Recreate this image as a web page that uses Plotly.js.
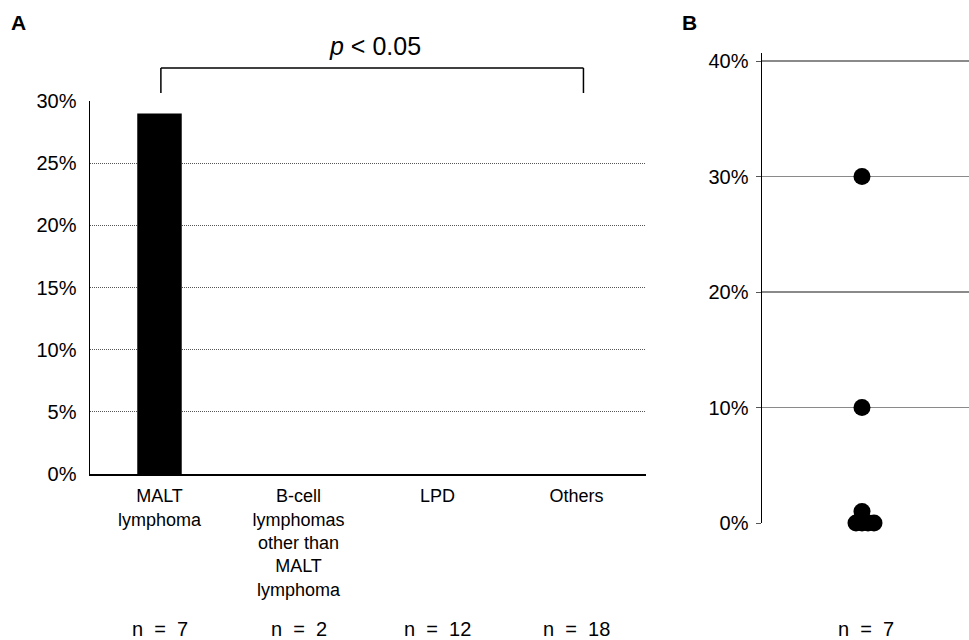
<!DOCTYPE html>
<html>
<head>
<meta charset="utf-8">
<script src="https://cdn.plot.ly/plotly-3.0.1.min.js"></script>
<style>html,body{margin:0;padding:0;background:#fff;}#chart{width:969px;height:640px;}</style>
</head>
<body>
<div id="chart"></div>
<script>
// Panel A data
const categories = ["MALT<br>lymphoma", "B-cell<br>lymphomas<br>other than<br>MALT<br>lymphoma", "LPD", "Others"];
const percentA = [29, 0, 0, 0];
const nA = [7, 2, 12, 18];
// Panel B data (individual values, % ; x jitter offsets)
const valuesB = [30, 10, 1, 0, 0, 0, 0];
const jitterB = [0, 0, 0, -0.06, 0, 0.06, 0.12];
const nB = 7;
const pLabel = "<i>p</i> < 0.05";

const W = 969, H = 640;
const px = v => v / W, py = v => (H - v) / H;
const font = "Liberation Sans, Arial, sans-serif";
const nText = n => "n&nbsp;&nbsp;=&nbsp;&nbsp;" + n;

const traces = [
  {type: "bar", x: categories, y: percentA, xaxis: "x", yaxis: "y",
   marker: {color: "#000"}, width: 0.32, hoverinfo: "skip"},
  {type: "scatter", mode: "markers", x: jitterB, y: valuesB, xaxis: "x2", yaxis: "y2",
   marker: {color: "#000", size: 17}, hoverinfo: "skip", cliponaxis: false}
];

const annotations = [];
categories.forEach((c, i) => {
  annotations.push({xref: "x", yref: "paper", x: i, y: py(629), text: nText(nA[i]),
    showarrow: false, font: {size: 20, color: "#000", family: font}, yanchor: "middle"});
});
annotations.push({xref: "x2", yref: "paper", x: 0.04, y: py(629), text: nText(nB),
  showarrow: false, font: {size: 20, color: "#000", family: font}, yanchor: "middle"});
annotations.push({xref: "paper", yref: "paper", x: px(375), y: py(46), text: pLabel,
  showarrow: false, font: {size: 25, color: "#000", family: font}, yanchor: "middle"});
annotations.push({xref: "paper", yref: "paper", x: px(9), y: py(23), text: "<b>A</b>",
  showarrow: false, font: {size: 21, color: "#000", family: font}, xanchor: "left", yanchor: "middle"});
annotations.push({xref: "paper", yref: "paper", x: px(680), y: py(23), text: "<b>B</b>",
  showarrow: false, font: {size: 21, color: "#000", family: font}, xanchor: "left", yanchor: "middle"});

const bl = {color: "#000", width: 1.5};
const shapes = [
  {type: "line", xref: "x", yref: "paper", x0: 0.01, x1: 0.01, y0: py(93), y1: py(68), line: bl},
  {type: "line", xref: "x", yref: "paper", x0: 0.01, x1: 3.05, y0: py(68), y1: py(68), line: bl},
  {type: "line", xref: "x", yref: "paper", x0: 3.05, x1: 3.05, y0: py(68), y1: py(93), line: bl}
];

const layout = {
  width: W, height: H,
  margin: {l: 0, r: 0, t: 0, b: 0},
  paper_bgcolor: "#fff", plot_bgcolor: "rgba(0,0,0,0)",
  showlegend: false,
  font: {family: font, color: "#000", size: 18},
  xaxis: {domain: [px(90), px(646)], type: "category", showline: true, linecolor: "#000", linewidth: 1.5,
    ticks: "", showgrid: false, zeroline: false, tickfont: {size: 18}, ticklabelstandoff: 5, fixedrange: true},
  yaxis: {domain: [py(474), py(101)], range: [0, 30], dtick: 5, ticksuffix: "%", showline: true,
    linecolor: "#000", linewidth: 1.5, gridcolor: "#555", griddash: "1px,1px", gridwidth: 1,
    zeroline: false, ticks: "", tickfont: {size: 20}, ticklabelstandoff: 8},
  xaxis2: {domain: [px(762), 1], range: [-1, 1.07], visible: false, anchor: "y2"},
  yaxis2: {domain: [py(523), py(53)], range: [0, 40.7], dtick: 10, ticksuffix: "%", anchor: "x2",
    showline: true, linecolor: "#000", linewidth: 1.5, gridcolor: "#8a8a8a", gridwidth: 1.5,
    zeroline: false, ticks: "outside", ticklen: 5, tickcolor: "#555", tickfont: {size: 20}, ticklabelstandoff: 3},
  annotations: annotations,
  shapes: shapes
};

Plotly.newPlot("chart", traces, layout, {displayModeBar: false, staticPlot: true});
</script>
</body>
</html>
